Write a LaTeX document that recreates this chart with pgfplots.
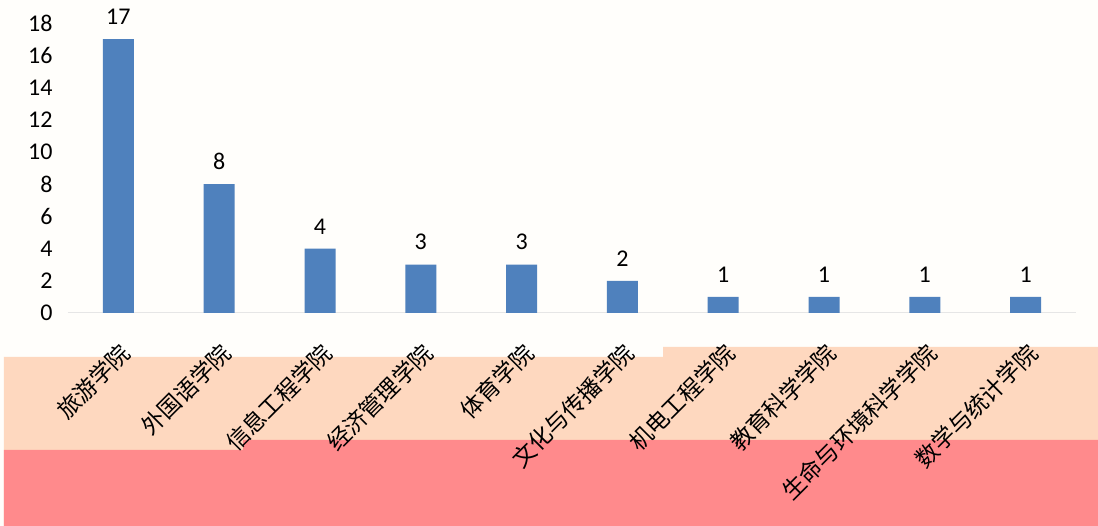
\documentclass[border=0pt]{standalone}
\usepackage{pgfplots}
\pgfplotsset{compat=1.18}
\usepackage{fontspec}
\setmainfont{Carlito}
\newfontfamily\cjk{Noto Sans CJK SC}
\definecolor{barblue}{HTML}{4F81BD}
\definecolor{bgwhite}{HTML}{FFFEFB}
\definecolor{peach}{HTML}{FED8BF}
\definecolor{rosy}{HTML}{FF8A8C}
\definecolor{axisgray}{HTML}{E6E6E6}
\begin{document}
\begin{tikzpicture}[x=1pt,y=1pt]
\useasboundingbox (-68,-213) rectangle (1030,313);
\fill[bgwhite] (-68,-213) rectangle (1030,313);
\fill[peach] (-64,-213) -- (-64,-44) -- (595,-44) -- (595,-34) -- (1030,-34) -- (1030,-213) -- cycle;
\fill[rosy] (-64,-213) -- (-64,-137) -- (175,-137) -- (175,-127) -- (1030,-127) -- (1030,-213) -- cycle;
\begin{axis}[
  at={(0,0)}, anchor=south west,
  scale only axis,
  width=1008pt, height=290pt,
  xmin=-0.5, xmax=9.5,
  ymin=0, ymax=18,
  ytick={0,2,...,18},
  xtick={0,...,9},
  xticklabels={旅游学院,外国语学院,信息工程学院,经济管理学院,体育学院,文化与传播学院,机电工程学院,教育科学学院,生命与环境科学学院,数学与统计学院},
  axis x line*=bottom,
  axis y line*=left,
  x axis line style={draw=axisgray, line width=1pt, -},
  y axis line style={draw=none},
  tick style={draw=none},
  /pgf/number format/assume math mode=true,
  yticklabel style={font=\fontsize{24}{24}\selectfont, anchor=east, xshift=-12pt},
  xticklabel style={font=\cjk\fontsize{23}{23}\selectfont, rotate=45, anchor=north east, inner sep=0pt},
  xticklabel shift=24pt,
  ybar,
  bar width=31pt,
  nodes near coords,
  every node near coord/.append style={font=\fontsize{24}{24}\selectfont, anchor=south, yshift=11pt, black},
  clip=false,
]
\addplot[fill=barblue, draw=none] coordinates {(0,17) (1,8) (2,4) (3,3) (4,3) (5,2) (6,1) (7,1) (8,1) (9,1)};
\end{axis}
\end{tikzpicture}
\end{document}
